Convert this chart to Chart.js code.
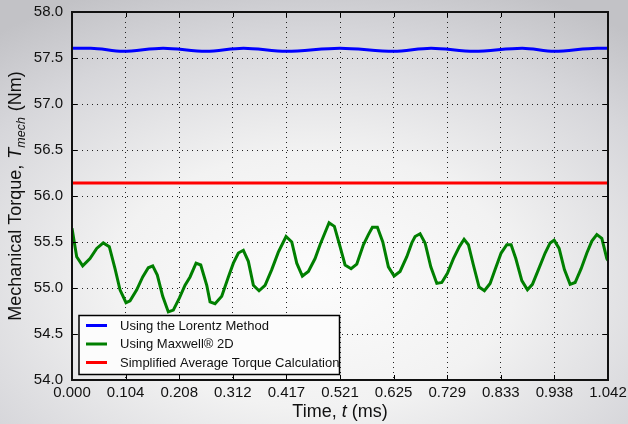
<!DOCTYPE html>
<html>
<head>
<meta charset="utf-8">
<script src="https://cdn.jsdelivr.net/npm/chart.js@4.4.1/dist/chart.umd.min.js"></script>
<style>
  html, body { margin: 0; padding: 0; }
  body {
    width: 628px; height: 424px; overflow: hidden;
    background: radial-gradient(ellipse 80% 75% at 50% 66%, #fcfcfc 0%, #f2f2f2 40%, #d6d6da 78%, #c2c2c6 100%);
  }
</style>
</head>
<body>
<canvas id="myChart" width="628" height="424"></canvas>
<script>
// Torque from the Maxwell 2D run (time in ms, torque in Nm)
const timeMs = [
  0.0000, 0.0091, 0.0208, 0.0350, 0.0480, 0.0608, 0.0725, 0.0836, 0.0933, 0.1050,
  0.1128, 0.1258, 0.1374, 0.1483, 0.1569, 0.1658, 0.1763, 0.1872, 0.1969, 0.2086,
  0.2197, 0.2294, 0.2411, 0.2502, 0.2619, 0.2683, 0.2780, 0.2910, 0.3039, 0.3136,
  0.3233, 0.3330, 0.3427, 0.3525, 0.3635, 0.3752, 0.3882, 0.4010, 0.4160, 0.4271,
  0.4368, 0.4477, 0.4594, 0.4724, 0.4821, 0.4996, 0.5099, 0.5210, 0.5307, 0.5424,
  0.5535, 0.5663, 0.5760, 0.5838, 0.5935, 0.6040, 0.6149, 0.6260, 0.6376, 0.6507,
  0.6604, 0.6668, 0.6765, 0.6862, 0.6973, 0.7090, 0.7187, 0.7296, 0.7413, 0.7529,
  0.7620, 0.7704, 0.7801, 0.7912, 0.8015, 0.8126, 0.8223, 0.8340, 0.8450, 0.8534,
  0.8625, 0.8742, 0.8851, 0.8948, 0.9065, 0.9195, 0.9292, 0.9370, 0.9467, 0.9570,
  0.9681, 0.9778, 0.9895, 1.0006, 1.0103, 1.0200, 1.0297, 1.0394, 1.0417
];
const maxwellTorque = [
  55.65, 55.34, 55.24, 55.32, 55.43, 55.49, 55.45, 55.21, 54.98, 54.84,
  54.86, 54.98, 55.12, 55.22, 55.24, 55.14, 54.91, 54.74, 54.76, 54.89,
  55.03, 55.12, 55.27, 55.25, 55.03, 54.85, 54.83, 54.91, 55.12, 55.27,
  55.38, 55.41, 55.29, 55.03, 54.97, 55.03, 55.20, 55.39, 55.56, 55.50,
  55.27, 55.13, 55.18, 55.32, 55.47, 55.71, 55.67, 55.45, 55.25, 55.21,
  55.26, 55.47, 55.58, 55.66, 55.66, 55.50, 55.23, 55.13, 55.18, 55.34,
  55.49, 55.56, 55.59, 55.49, 55.23, 55.05, 55.06, 55.16, 55.32, 55.45,
  55.53, 55.47, 55.25, 55.01, 54.97, 55.05, 55.20, 55.38, 55.47, 55.47,
  55.32, 55.08, 54.98, 55.04, 55.20, 55.38, 55.49, 55.52, 55.43, 55.20,
  55.04, 55.06, 55.21, 55.38, 55.51, 55.58, 55.54, 55.32, 55.30
];

// Lorentz method torque (peaks and troughs of the ripple)
const lorentzTime = [
  0.0000, 0.0365, 0.0990, 0.1771, 0.2604, 0.3333, 0.4167, 0.5208,
  0.6250, 0.6979, 0.7813, 0.8750, 0.9375, 1.0208, 1.0417
];
const lorentzTorque = [
  57.607, 57.607, 57.574, 57.607, 57.574, 57.607, 57.574, 57.607,
  57.574, 57.607, 57.574, 57.607, 57.574, 57.607, 57.607
];

// Simplified average torque (constant)
const averageTime = [0.0000, 1.0417];
const averageTorque = [56.14, 56.14];

const xMax = 1.0417;
const xTickLabels = ['0.000', '0.104', '0.208', '0.312', '0.417', '0.521', '0.625', '0.729', '0.833', '0.938', '1.042'];
const yMin = 54.0, yMax = 58.0, yStep = 0.5;

const seriesNames = ['Using the Lorentz Method', 'Using Maxwell\u00AE 2D', 'Simplified Average Torque Calculation'];

const FONT = '"Liberation Sans", Arial, Helvetica, sans-serif';

function pairs(xs, ys) {
  return xs.map((x, i) => ({ x: x, y: ys[i] }));
}

// draws text pieces with their own fonts one after another, centred on cx
function drawParts(ctx, parts, cx, baseY) {
  let total = 0;
  parts.forEach(p => { ctx.font = p.font; total += ctx.measureText(p.text).width + (p.pre || 0) + (p.post || 0); });
  let px = cx - total / 2;
  parts.forEach(p => {
    ctx.font = p.font;
    px += p.pre || 0;
    ctx.fillText(p.text, px, baseY + (p.dy || 0));
    px += ctx.measureText(p.text).width + (p.post || 0);
  });
}

// frame, inward ticks, legend box and axis titles
const decorations = {
  id: 'decorations',
  afterDraw(chart) {
    const { ctx, chartArea: a, scales: { x, y } } = chart;
    ctx.save();

    // inward tick marks on all four sides
    ctx.strokeStyle = '#000';
    ctx.lineWidth = 1;
    ctx.beginPath();
    y.ticks.forEach(t => {
      const py = Math.round(y.getPixelForValue(t.value)) + 0.5;
      ctx.moveTo(a.left, py); ctx.lineTo(a.left + 5, py);
      ctx.moveTo(a.right, py); ctx.lineTo(a.right - 5, py);
    });
    x.ticks.forEach(t => {
      const px = Math.round(x.getPixelForValue(t.value)) + 0.5;
      ctx.moveTo(px, a.bottom); ctx.lineTo(px, a.bottom - 5);
      ctx.moveTo(px, a.top); ctx.lineTo(px, a.top + 5);
    });
    ctx.stroke();

    // axes frame
    ctx.lineWidth = 2;
    ctx.strokeStyle = '#111';
    ctx.strokeRect(a.left, a.top, a.right - a.left, a.bottom - a.top);

    // legend box in the lower left corner
    const lx = 79, ly = 315.5, lw = 260.5, lh = 59;
    ctx.fillStyle = '#fcfcfc';
    ctx.fillRect(lx, ly, lw, lh);
    ctx.lineWidth = 1.5;
    ctx.strokeStyle = '#000';
    ctx.strokeRect(lx, ly, lw, lh);
    ctx.font = '13px ' + FONT;
    ctx.textBaseline = 'middle';
    ctx.textAlign = 'left';
    const rows = [325.5, 344, 362.5];
    chart.data.datasets.forEach((ds, i) => {
      ctx.strokeStyle = ds.borderColor;
      ctx.lineWidth = 3;
      ctx.beginPath();
      ctx.moveTo(86, rows[i]); ctx.lineTo(107, rows[i]);
      ctx.stroke();
      ctx.fillStyle = '#111';
      ctx.fillText(ds.label, 120, rows[i] + 0.5);
    });

    // x axis title: Time, t (ms)
    ctx.fillStyle = '#111';
    ctx.textBaseline = 'alphabetic';
    drawParts(ctx, [
      { text: 'Time,', font: '18px ' + FONT },
      { text: 't', font: 'italic 18px ' + FONT, pre: 5, post: 5 },
      { text: '(ms)', font: '18px ' + FONT }
    ], (a.left + a.right) / 2, 417);

    // y axis title: Mechanical Torque, T_mech (Nm)
    ctx.translate(21, (a.top + a.bottom) / 2);
    ctx.rotate(-Math.PI / 2);
    drawParts(ctx, [
      { text: 'Mechanical Torque,', font: '18px ' + FONT },
      { text: 'T', font: 'italic 18px ' + FONT, pre: 6 },
      { text: 'mech', font: 'italic 12.5px ' + FONT, dy: 4 },
      { text: '(Nm)', font: '18px ' + FONT, pre: 6 }
    ], 0, 0);

    ctx.restore();
  }
};

const ctx = document.getElementById('myChart').getContext('2d');
new Chart(ctx, {
  type: 'line',
  data: {
    datasets: [
      {
        label: seriesNames[0],
        data: pairs(lorentzTime, lorentzTorque),
        borderColor: '#0000ff',
        borderWidth: 3,
        cubicInterpolationMode: 'monotone',
        pointRadius: 0
      },
      {
        label: seriesNames[1],
        data: pairs(timeMs, maxwellTorque),
        borderColor: '#007f00',
        borderWidth: 3,
        tension: 0,
        pointRadius: 0
      },
      {
        label: seriesNames[2],
        data: pairs(averageTime, averageTorque),
        borderColor: '#ff0000',
        borderWidth: 3,
        tension: 0,
        pointRadius: 0
      }
    ]
  },
  options: {
    responsive: false,
    animation: false,
    events: [],
    layout: { padding: { top: 12, right: 20, left: 0, bottom: 0 } },
    plugins: {
      legend: { display: false },
      tooltip: { enabled: false }
    },
    scales: {
      x: {
        type: 'linear',
        min: 0,
        max: xMax,
        afterFit: s => {
          s.height = 44;
          s.paddingLeft = 0;
          s.paddingRight = 0;
        },
        afterBuildTicks: s => {
          s.ticks = xTickLabels.map((l, i) => ({ value: i * xMax / 10 }));
        },
        grid: { color: '#222', lineWidth: 1, drawTicks: false },
        border: { display: false, dash: [1, 4] },
        ticks: {
          padding: 4,
          maxRotation: 0,
          autoSkip: false,
          color: '#111',
          font: { family: FONT, size: 15 },
          callback: (v, i) => xTickLabels[i]
        }
      },
      y: {
        min: yMin,
        max: yMax,
        afterFit: s => {
          s.width = 72;
          s.paddingTop = 0;
          s.paddingBottom = 0;
        },
        grid: { color: '#222', lineWidth: 1, drawTicks: false },
        border: { display: false, dash: [1, 4] },
        ticks: {
          stepSize: yStep,
          padding: 9,
          color: '#111',
          font: { family: FONT, size: 15 },
          callback: v => v.toFixed(1)
        }
      }
    }
  },
  plugins: [decorations]
});
</script>
</body>
</html>
